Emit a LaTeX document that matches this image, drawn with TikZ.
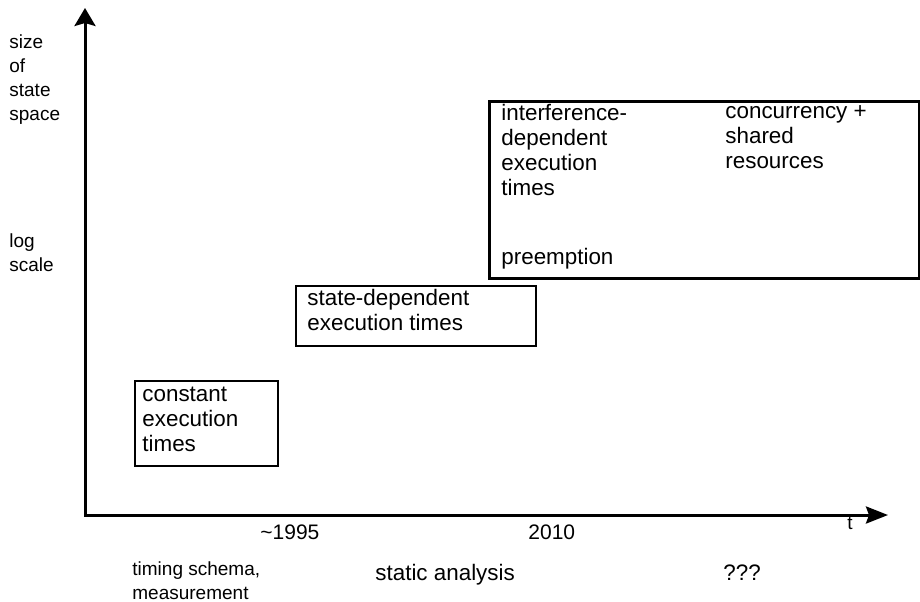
\documentclass[tikz,border=0pt]{standalone}
\usepackage{fontspec}
\setmainfont{Liberation Sans}
\usetikzlibrary{positioning,arrows.meta}

\tikzset{
  stage/.style={draw, line width=1pt, inner sep=0pt, anchor=north west},
  txt/.style={inner sep=0pt, align=left, font=\fontsize{11.2}{12.5}\selectfont,
    execute at begin node=\strut},
  axislbl/.style={inner sep=0pt, align=left, font=\fontsize{9.5}{12}\selectfont,
    execute at begin node=\strut},
  yearlbl/.style={inner sep=0pt, anchor=base west, font=\fontsize{10.5}{12}\selectfont},
}

\begin{document}
\begin{tikzpicture}[x=0.5pt, y=-0.5pt]
\useasboundingbox (0,0) rectangle (920,601);

% axes
\coordinate (orig) at (85,515);
\coordinate (ytip) at (85,8);
\coordinate (xtip) at (888,515);
\draw[line width=1.5pt,
  {Stealth[length=9pt,width=10.5pt,inset=1.5pt]}-{Stealth[length=11pt,width=8.5pt,inset=1.5pt]}]
  (ytip) -- (orig) -- (xtip);

\node[axislbl, anchor=north west] (ylbl) at (9,34) {size\\of\\state\\space};
\node[axislbl, anchor=north west] (logscale) at (9,233) {log\\scale};
\node[axislbl, anchor=base west] (tlbl) at (847,529) {t};

% stages
\node[stage, minimum width=71.5pt, minimum height=42.5pt] (const) at (134,380) {};
\node[txt, below right=3.25pt and 4pt of const.north west] (consttxt)
  {constant\\execution\\times};

\node[stage, minimum width=120pt, minimum height=30pt] (statedep) at (295,285) {};
\node[txt, below right=1.75pt and 6pt of statedep.north west] (statetxt)
  {state-dependent\\execution times};

\node[stage, line width=1.5pt, minimum width=215pt, minimum height=88.5pt] (interf) at (488,100) {};
\node[txt, below right=2pt and 6.5pt of interf.north west] (interftxt)
  {interference-\\dependent\\execution\\times};
\node[txt, below right=2.75pt and 118.5pt of interf.north west] (conctxt)
  {concurrency +\\shared\\resources};
\node[txt, above right=3.75pt and 6.5pt of interf.south west] (preempt) {preemption};

% time line
\node[yearlbl] (y1995) at (260,539) {\textasciitilde1995};
\node[yearlbl] (y2010) at (528,539) {2010};

\node[axislbl, anchor=north west] (meas) at (132,561) {timing schema,\\measurement};
\node[txt, anchor=base west, execute at begin node={}] (static) at (375,580) {static analysis};
\node[txt, anchor=base west, execute at begin node={}] (unknown) at (723,580) {???};
\end{tikzpicture}
\end{document}
